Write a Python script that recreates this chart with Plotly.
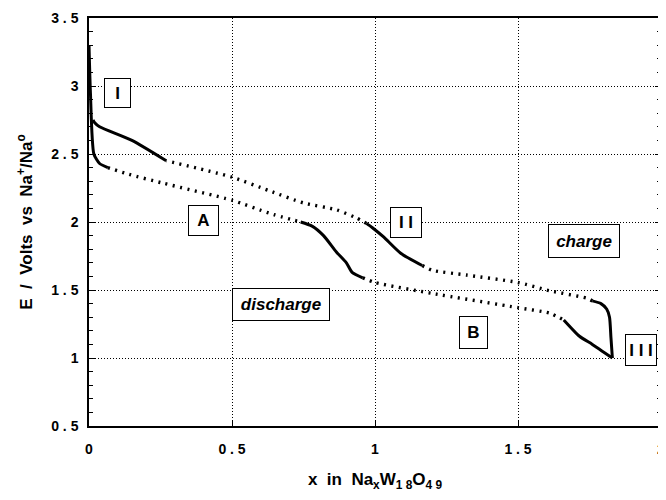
import plotly.graph_objects as go

# ---- data (x in NaxW18O49, E in volts) ----
# discharge curve, split into steep (solid) and flat (dotted) stretches
dis_solid_1_x = [0.0, 0.005, 0.017, 0.037, 0.066]
dis_solid_1_y = [3.30, 2.95, 2.50, 2.43, 2.40]
dis_dot_1_x = [0.066, 0.14, 0.26, 0.50, 0.63, 0.74]
dis_dot_1_y = [2.40, 2.35, 2.285, 2.16, 2.065, 2.00]
dis_solid_2_x = [0.74, 0.78, 0.82, 0.865, 0.90, 0.92, 0.957]
dis_solid_2_y = [2.00, 1.97, 1.90, 1.78, 1.70, 1.63, 1.59]
dis_dot_2_x = [0.957, 1.00, 1.20, 1.50, 1.61, 1.66]
dis_dot_2_y = [1.59, 1.555, 1.475, 1.37, 1.33, 1.28]
dis_solid_3_x = [1.66, 1.715, 1.76, 1.83]
dis_solid_3_y = [1.28, 1.16, 1.10, 1.00]

# charge curve
chg_solid_1_x = [1.83, 1.825, 1.82, 1.81, 1.79, 1.76]
chg_solid_1_y = [1.00, 1.15, 1.30, 1.36, 1.40, 1.42]
chg_dot_1_x = [1.76, 1.74, 1.61, 1.50, 1.32, 1.20, 1.165]
chg_dot_1_y = [1.42, 1.44, 1.495, 1.555, 1.61, 1.645, 1.68]
chg_solid_2_x = [1.165, 1.09, 1.03, 0.99, 0.97]
chg_solid_2_y = [1.68, 1.77, 1.89, 1.96, 1.99]
chg_dot_2_x = [0.97, 0.935, 0.865, 0.75, 0.63, 0.50, 0.27]
chg_dot_2_y = [1.99, 2.03, 2.09, 2.14, 2.23, 2.33, 2.45]
chg_solid_3_x = [0.27, 0.15, 0.037, 0.02, 0.014]
chg_solid_3_y = [2.45, 2.60, 2.70, 2.73, 2.75]

x_ticks = [0, 0.5, 1, 1.5, 2]
x_ticktext = ["0", "0 . 5", "1", "1 . 5", "2"]
y_ticks = [0.5, 1, 1.5, 2, 2.5, 3, 3.5]
y_ticktext = ["0 . 5", "1", "1 . 5", "2", "2 . 5", "3", "3 . 5"]

# boxed labels
label_text = ["I", "A", "I I", "charge", "discharge", "B", "I I I"]
label_x = [0.10, 0.40, 1.11, 1.73, 0.67, 1.345, 1.93]
label_y = [2.95, 2.01, 2.00, 1.86, 1.39, 1.19, 1.06]
label_w = [27, 31, 32, 72, 98, 29, 32]
label_h = [30, 31, 31, 34, 33, 33, 32]

FONT = "Liberation Sans, Arial, sans-serif"

fig = go.Figure()

solid_sets = [
    (dis_solid_1_x, dis_solid_1_y), (dis_solid_2_x, dis_solid_2_y), (dis_solid_3_x, dis_solid_3_y),
    (chg_solid_1_x, chg_solid_1_y), (chg_solid_2_x, chg_solid_2_y), (chg_solid_3_x, chg_solid_3_y),
]
dot_sets = [
    (dis_dot_1_x, dis_dot_1_y), (dis_dot_2_x, dis_dot_2_y),
    (chg_dot_1_x, chg_dot_1_y), (chg_dot_2_x, chg_dot_2_y),
]
for xs, ys in solid_sets:
    fig.add_trace(go.Scatter(x=xs, y=ys, mode="lines",
                             line=dict(color="black", width=3, shape="spline", smoothing=0.6),
                             showlegend=False, hoverinfo="skip"))
for xs, ys in dot_sets:
    fig.add_trace(go.Scatter(x=xs, y=ys, mode="lines",
                             line=dict(color="black", width=3.4, dash="2px,5.5px", shape="spline", smoothing=0.6),
                             showlegend=False, hoverinfo="skip"))

# invisible trace on the right-hand axis so its minor ticks are drawn
fig.add_trace(go.Scatter(x=[0], y=[0.5], yaxis="y2", mode="markers", marker=dict(opacity=0),
                         showlegend=False, hoverinfo="skip"))

for t, lx, ly, w, h in zip(label_text, label_x, label_y, label_w, label_h):
    italic = t in ("charge", "discharge")
    fig.add_annotation(
        x=lx, y=ly, text=("<b><i>%s</i></b>" % t) if italic else "<b>%s</b>" % t, showarrow=False,
        font=dict(family=FONT, size=17, color="black"),
        width=w - 2, height=h - 2, align="center", valign="middle",
        bordercolor="black", borderwidth=1, borderpad=0, bgcolor="white",
    )

axis_common = dict(
    showline=True, linecolor="black", linewidth=1.5, mirror=True,
    showgrid=True, gridcolor="black", gridwidth=1, griddash="1px,2px",
    ticks="inside", ticklen=6, tickcolor="black", tickwidth=1,
    zeroline=False, automargin=False, ticklabeloverflow="allow",
    tickfont=dict(family=FONT, size=14, color="black"),
)

# the page body adds an 8px margin, so the figure is kept inside the window
fig.update_layout(
    width=658, height=484,
    margin=dict(l=81, r=5, t=10, b=66),
    plot_bgcolor="white", paper_bgcolor="white",
    xaxis=dict(range=[0, 2], tickvals=x_ticks, ticktext=["<b>%s</b>" % s for s in x_ticktext],
               ticklabelstandoff=9,
               title=dict(text="<b>x  in  Na<sub>x</sub>W<sub>1 8</sub>O<sub>4 9</sub></b>",
                          font=dict(family=FONT, size=17, color="black"), standoff=22),
               **axis_common),
    yaxis=dict(range=[0.5, 3.5], tickvals=y_ticks, ticktext=["<b>%s</b>" % s for s in y_ticktext],
               ticklabelstandoff=6,
               minor=dict(dtick=0.1, ticks="inside", ticklen=4, tickcolor="black", showgrid=False),
               title=dict(text="<b>E  /  Volts  vs  Na<sup>+</sup>/Na<sup>o</sup></b>",
                          font=dict(family=FONT, size=17, color="black"), standoff=14),
               **axis_common),
    yaxis2=dict(range=[0.5, 3.5], overlaying="y", side="right", showticklabels=False,
                showgrid=False, showline=False, zeroline=False, automargin=False,
                tickvals=y_ticks, ticks="inside", ticklen=6, tickcolor="black",
                minor=dict(dtick=0.1, ticks="inside", ticklen=4, tickcolor="black", showgrid=False)),
)

fig.write_html("out.html")
